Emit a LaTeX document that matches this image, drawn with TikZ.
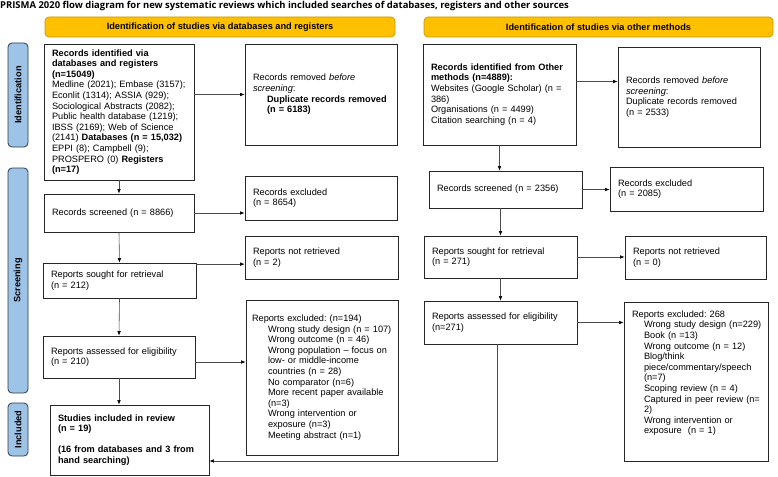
\documentclass[tikz,border=0pt]{standalone}
\usepackage{fontspec}
\setmainfont{Liberation Sans}
\newfontfamily\titlefont{Open Sans}
\usetikzlibrary{arrows.meta}
\definecolor{headyellow}{HTML}{FFC000}
\definecolor{headedge}{HTML}{C99700}
\definecolor{sideblue}{HTML}{9DC3E6}
\definecolor{sideedge}{HTML}{2E3B4E}
\newcommand\bxfont{\fontsize{9.2}{10.6}\selectfont\frenchspacing}
\newcommand\indnt{\hspace*{16pt}}
\begin{document}
\begin{tikzpicture}[x=1pt,y=-1pt,
	box/.style={draw=black!85, line width=0.75pt, fill=white, font=\bxfont, align=left, inner xsep=8pt, inner ysep=2pt},
	head/.style={draw=headedge, line width=0.7pt, fill=headyellow, rounded corners=4pt, font=\bxfont\bfseries, minimum height=20pt, inner sep=0pt},
	side/.style={draw=sideedge, line width=0.8pt, fill=sideblue, rounded corners=4pt, font=\bxfont\bfseries, minimum height=20pt, inner sep=0pt, rotate=90},
	arr/.style={draw=black!70, line width=0.6pt, -{Latex[length=4.5pt,width=3.6pt,color=black]}}]
	\fill[white] (0,0) rectangle (778,476);
	\useasboundingbox (0,0) rectangle (778,476);
	\node[anchor=west, inner sep=0pt, font=\titlefont\bfseries\fontsize{9.45}{11}\selectfont] (title) at (0,6) {PRISMA 2020 flow diagram for new systematic reviews which included searches of databases, registers and other sources};
	% headers and phases
	\node[head, minimum width=350pt] (hdL) at (220,27) {Identification of studies via databases and registers};
	\node[head, minimum width=349pt] (hdR) at (598.5,27) {Identification of studies via other methods};
	\node[side, minimum width=104pt] (idS) at (18,95) {Identification};
	\node[side, minimum width=225pt] (scrS) at (18,280.5) {Screening};
	\node[side, minimum width=53pt] (incS) at (18,429.5) {Included};
	% databases and registers
	\node[box, text width=134pt, minimum height=136pt] (idL) at (119,112) {\textbf{Records identified via}\\
		\textbf{databases and registers}\\
		\textbf{(n=15049)}\\
		Medline (2021); Embase (3157);\\
		Econlit (1314); ASSIA (929);\\
		Sociological Abstracts (2082);\\
		Public health database (1219);\\
		IBSS (2169); Web of Science\\
		(2141) \textbf{Databases (n = 15,032)}\\
		EPPI (8); Campbell (9);\\
		PROSPERO (0) \textbf{Registers}\\
		\textbf{(n=17)}};
	\node[box, text width=136pt, minimum height=101pt] (remL) at (321,94.5) {Records removed \textit{before}\\
		\textit{screening}:\\
		\hspace*{14pt}\textbf{Duplicate records removed}\\
		\hspace*{14pt}\textbf{(n = 6183)}};
	\node[box, text width=134pt, minimum height=38pt] (scrL) at (119,213) {Records screened (n = 8866)};
	\node[box, text width=136pt, minimum height=44pt] (excL) at (321,198) {Records excluded\\(n = 8654)};
	\node[box, text width=137pt, minimum height=35pt] (sghL) at (119.5,280.5) {Reports sought for retrieval\\(n = 212)};
	\node[box, text width=137pt, minimum height=43pt] (nrL) at (321.5,257.5) {Reports not retrieved\\(n = 2)};
	\node[box, text width=136pt, minimum height=42pt] (elgL) at (119,357) {Reports assessed for eligibility\\(n = 210)};
	\node[box, inner xsep=6pt, text width=140pt, minimum height=155pt] (rexL) at (322,377.5) {Reports excluded: (n=194)\\
		\indnt Wrong study design (n = 107)\\
		\indnt Wrong outcome (n = 46)\\
		\indnt Wrong population -- focus on\\
		\indnt low- or middle-income\\
		\indnt countries (n = 28)\\
		\indnt No comparator (n=6)\\
		\indnt More recent paper available\\
		\indnt (n=3)\\
		\indnt Wrong intervention or\\
		\indnt exposure (n=3)\\
		\indnt Meeting abstract (n=1)};
	\node[box, text width=143pt, minimum height=70pt] (incL) at (129.5,440) {\textbf{Studies included in review}\\
		\textbf{(n = 19)}\\[10.6pt]
		\textbf{(16 from databases and 3 from}\\
		\textbf{hand searching)}};
	% other methods
	\node[box, text width=137pt, minimum height=101pt] (idR) at (499.5,94.5) {\textbf{Records identified from Other}\\
		\textbf{methods (n=4889):}\\
		Websites (Google Scholar) (n =\\
		386)\\
		Organisations (n = 4499)\\
		Citation searching (n = 4)};
	\node[box, text width=126pt, minimum height=100pt] (remR) at (689,97) {Records removed \textit{before}\\
		\textit{screening}:\\
		Duplicate records removed\\
		(n = 2533)};
	\node[box, text width=137pt, minimum height=37pt] (scrR) at (505.5,189.5) {Records screened (n = 2356)};
	\node[box, text width=137pt, minimum height=44pt] (excR) at (686.5,189) {Records excluded\\(n = 2085)};
	\node[box, text width=137pt, minimum height=42pt] (sghR) at (500.5,257) {Reports sought for retrieval\\(n = 271)};
	\node[box, text width=125pt, minimum height=43pt] (nrR) at (695.5,257.5) {Reports not retrieved\\(n = 0)};
	\node[box, text width=137pt, minimum height=43pt] (elgR) at (500.5,322.5) {Reports assessed for eligibility\\(n=271)};
	\node[box, inner xsep=3pt, text width=138pt, minimum height=159pt] (rexR) at (696,381.5) {\hspace*{5pt}Reports excluded: 268\\
		\hspace*{17pt}Wrong study design (n=229)\\
		\hspace*{17pt}Book (n =13)\\
		\hspace*{17pt}Wrong outcome (n = 12)\\
		\hspace*{17pt}Blog/think\\
		\hspace*{17pt}piece/commentary/speech\\
		\hspace*{17pt}(n=7)\\
		\hspace*{17pt}Scoping review (n = 4)\\
		\hspace*{17pt}Captured in peer review (n=\\
		\hspace*{17pt}2)\\
		\hspace*{17pt}Wrong intervention or\\
		\hspace*{17pt}exposure\ \ (n = 1)\\[8pt]\mbox{}};
	% connectors
	\draw[arr] (idL.east |- remL.west) -- (remL.west);
	\draw[arr] (idL.south) -- (scrL.north);
	\draw[arr] (scrL.east) -- (scrL.east -| excL.west);
	\draw[arr] (scrL.south) -- (sghL.north);
	\draw[arr] ([yshift=-1.5pt]sghL.north east) -- ([yshift=-1.5pt]sghL.north east -| nrL.west);
	\draw[arr] (sghL.south) -- (elgL.north);
	\draw[arr] ([yshift=-5pt]elgL.east) -- ([yshift=-5pt]elgL.east -| rexL.west);
	\draw[arr] (elgL.south) -- (elgL.south |- incL.north);
	\draw[arr] ([yshift=13pt]idR.east) -- ([yshift=13pt]idR.east -| remR.west);
	\draw[arr] (idR.south) -- (idR.south |- scrR.north);
	\draw[arr] (scrR.east) -- (scrR.east -| excR.west);
	\draw[arr] (sghR.north |- scrR.south) -- (sghR.north);
	\draw[arr] (sghR.east) -- (sghR.east -| nrR.west);
	\draw[arr] (sghR.south) -- (elgR.north);
	\draw[arr] (elgR.east) -- (elgR.east -| rexR.west);
	\draw[arr] ([xshift=-3pt]elgR.south) |- ([yshift=-21pt]incL.east);
\end{tikzpicture}
\end{document}
